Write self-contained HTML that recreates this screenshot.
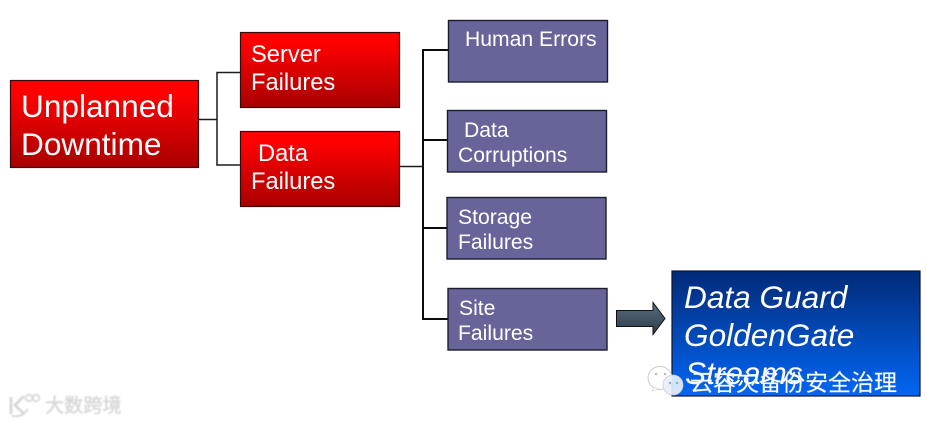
<!DOCTYPE html>
<html>
<head>
<meta charset="utf-8">
<style>
html,body{margin:0;padding:0;background:#fff;width:927px;height:423px;overflow:hidden}
svg{display:block;font-family:"Liberation Sans",sans-serif;filter:blur(0.35px)}
</style>
</head>
<body>
<svg width="927" height="423" viewBox="0 0 927 423" xmlns="http://www.w3.org/2000/svg">
<defs>
<linearGradient id="r" x1="0" y1="0" x2="0" y2="1"><stop offset="0.15" stop-color="#fe0000"/><stop offset="1" stop-color="#a80000"/></linearGradient>
<linearGradient id="b" x1="0" y1="0" x2="0" y2="1"><stop offset="0" stop-color="#022a78"/><stop offset="1" stop-color="#0266f4"/></linearGradient>
<linearGradient id="a" x1="0" y1="0" x2="0" y2="1"><stop offset="0" stop-color="#5c6e80"/><stop offset="1" stop-color="#2a3a48"/></linearGradient>
<filter id="soft" x="-10%" y="-10%" width="120%" height="120%"><feGaussianBlur stdDeviation="0.7"/></filter>
</defs>

<!-- connectors -->
<g fill="none" stroke="#1c1c1c" stroke-width="1.5">
<path d="M198 119.500H216.500M240 72.500H217V165H240"/>
<path d="M399 166.500H424"/>
<path d="M448 50H423V319H448M423 140H448M423 228H448" stroke="#0c0c0c" stroke-width="2"/>
</g>

<!-- red boxes -->
<g fill="url(#r)" stroke="#3a0a0a" stroke-width="1.200">
<rect x="10.500" y="80.500" width="188" height="87"/>
<rect x="240.500" y="32.500" width="159" height="75"/>
<rect x="240.500" y="131.500" width="159" height="75"/>
</g>

<!-- purple boxes -->
<g fill="#666499" stroke="#1c1c30" stroke-width="1.400">
<rect x="448.500" y="20.500" width="159" height="61.500"/>
<rect x="447.500" y="110.500" width="159" height="61.500"/>
<rect x="447" y="197.500" width="159" height="61.500"/>
<rect x="448" y="288.500" width="159" height="61.500"/>
</g>

<!-- arrow -->
<path d="M616.500 310.500H653V302.500L665 318.500L653 334.500V326.500H616.500Z" fill="url(#a)" stroke="#111" stroke-width="1"/>

<!-- blue box -->
<rect x="672" y="271" width="248" height="125" fill="url(#b)" stroke="#0a1430" stroke-width="1.200"/>

<!-- text -->
<g fill="#fff">
<g font-size="31.600"><text x="21" y="117">Unplanned</text><text x="21" y="155">Downtime</text></g>
<g font-size="23.700">
<text x="251" y="62">Server</text><text x="251" y="90">Failures</text>
<text x="258" y="161">Data</text><text x="251" y="189">Failures</text>
</g>
<g font-size="21.150">
<text x="465" y="46">Human Errors</text>
<text x="464" y="137">Data</text><text x="458" y="162">Corruptions</text>
<text x="458" y="224">Storage</text><text x="458" y="249">Failures</text>
<text x="459" y="315">Site</text><text x="458" y="340">Failures</text>
</g>
<g font-size="31.600" font-style="italic">
<text x="684" y="308">Data Guard</text>
<text x="684" y="346">GoldenGate</text>
<text x="685" y="384">Streams</text>
</g>
</g>

<!-- WeChat watermark -->
<g>
<ellipse cx="660" cy="378" rx="12" ry="11.500" fill="#fff" fill-opacity="0.85" stroke="#ccc" stroke-width="1"/>
<path d="M654 387l-2 4 7-2z" fill="#fff" stroke="#ccc" stroke-width="0.600"/>
<circle cx="673" cy="385" r="10" fill="#e4f0fc" fill-opacity="0.92" stroke="#ccc" stroke-width="0.800"/>
<circle cx="656" cy="374" r="1.300" fill="#bbb"/><circle cx="665" cy="374" r="1.300" fill="#bbb"/>
<circle cx="670" cy="383" r="1.200" fill="#9ab"/><circle cx="677" cy="383" r="1.200" fill="#9ab"/>
</g>
<text x="690" y="390.500" font-size="23" fill="#fff" style="font-family:'Liberation Sans','Noto Sans CJK SC',sans-serif" stroke="#c8d4e8" stroke-width="0.300">云容灾备份安全治理</text>

<!-- bottom-left watermark -->
<g filter="url(#soft)">
<g fill="none" stroke="#d4d4d4" stroke-width="2.600">
<path d="M11 397V414M24 396L15 405L24 414"/>
<circle cx="29" cy="398" r="3.300" stroke-width="1.600"/><circle cx="36" cy="398" r="3.300" stroke-width="1.600"/>
<path d="M12 416q10 2 16-7" stroke-width="1.700"/>
</g>
<text x="45" y="412" font-size="19.200" fill="#d8d8d8" stroke="#d8d8d8" stroke-width="0.500" style="font-family:'Liberation Sans','Noto Sans CJK SC',sans-serif">大数跨境</text>
</g>
</svg>
</body>
</html>
